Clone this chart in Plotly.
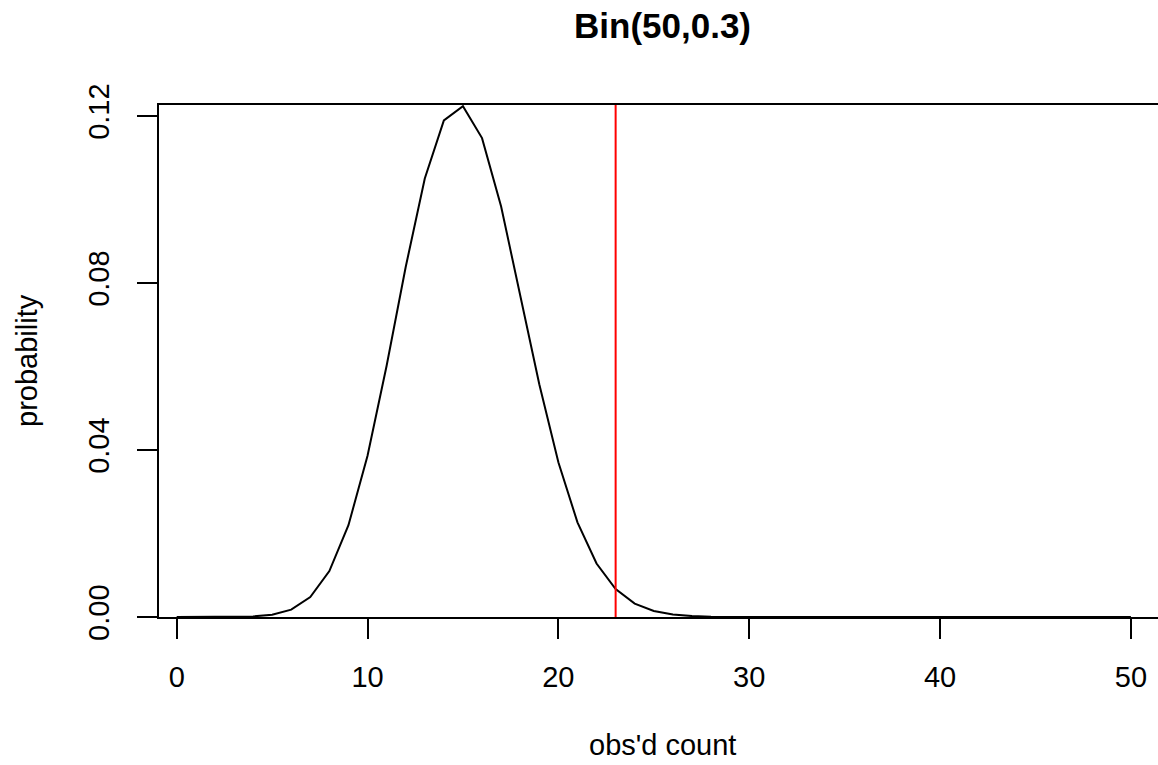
import plotly.graph_objects as go

# data: Bin(50, 0.3) probability of each count
counts = list(range(0, 51))
probability = [
    0.00000002, 0.0000004, 0.000004, 0.000028, 0.00014, 0.00055, 0.00177, 0.00477,
    0.01099, 0.02198, 0.03862, 0.06018, 0.08383, 0.10502, 0.11895, 0.12235,
    0.11470, 0.09832, 0.07725, 0.05576, 0.03704, 0.02268, 0.01281, 0.00668,
    0.00322, 0.00144, 0.00059, 0.000225, 0.000079, 0.000026, 0.0000077, 0.0000021,
    0.0000005, 0.0000001, 0.0, 0.0, 0.0, 0.0, 0.0, 0.0,
    0.0, 0.0, 0.0, 0.0, 0.0, 0.0, 0.0, 0.0,
    0.0, 0.0, 0.0,
]
observed = 23
x_ticks = [0, 10, 20, 30, 40, 50]
y_ticks = [0.0, 0.04, 0.08, 0.12]
y_tick_labels = ["0.00", "0.04", "0.08", "0.12"]
title_text = "Bin(50,0.3)"
x_label = "obs'd count"
y_label = "probability"

FONT = "Liberation Sans, Arial, Helvetica, sans-serif"

fig = go.Figure()
fig.add_trace(go.Scatter(
    x=counts, y=probability, mode="lines",
    line=dict(color="black", width=2), showlegend=False, hoverinfo="skip",
))

fig.add_shape(type="line", xref="x", yref="paper", x0=observed, x1=observed,
              y0=0, y1=1, line=dict(color="#ff0000", width=2))

fig.update_layout(
    width=1158, height=765,
    margin=dict(l=159, r=0, t=105, b=148),
    paper_bgcolor="white", plot_bgcolor="white",
    font=dict(family=FONT, size=29, color="black"),
    xaxis=dict(
        range=[-0.927, 51.42], tickvals=x_ticks, ticks="outside", ticklen=20,
        tickwidth=2, tickcolor="black", showgrid=False, zeroline=False,
        showline=True, linecolor="black", linewidth=2, mirror=True,
        tickfont=dict(size=29), ticklabelstandoff=13,
    ),
    yaxis=dict(
        range=[0, 0.12263], tickvals=y_ticks, ticktext=y_tick_labels,
        tickangle=-90, ticks="outside", ticklen=20, tickwidth=2,
        tickcolor="black", showgrid=False, zeroline=False, showline=True,
        linecolor="black", linewidth=2, mirror=False, tickfont=dict(size=29),
        ticklabelstandoff=16,
    ),
    annotations=[
        dict(text="<b>" + title_text + "</b>", xref="paper", yref="paper",
             x=0.504, y=1 + 80 / 512, xanchor="center", yanchor="middle",
             showarrow=False, font=dict(size=35, family=FONT)),
        dict(text=x_label, xref="paper", yref="paper",
             x=0.504, y=-(745 - 617) / 512, xanchor="center", yanchor="middle",
             showarrow=False, font=dict(size=29, family=FONT)),
        dict(text=y_label, xref="paper", yref="paper",
             x=-(159 - 27) / 999, y=0.5, xanchor="center", yanchor="middle",
             textangle=-90, showarrow=False, font=dict(size=29, family=FONT)),
    ],
)

fig.write_html(
    "out.html",
    config={"displayModeBar": False},
    post_script="document.body.style.margin='0';document.body.style.overflow='hidden';",
)
